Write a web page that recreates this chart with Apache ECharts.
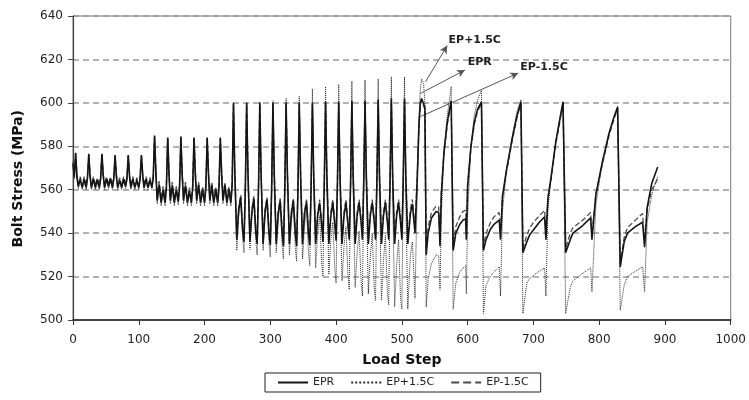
<!DOCTYPE html>
<html>
<head>
<meta charset="utf-8">
<script src="https://cdn.jsdelivr.net/npm/echarts@6/dist/echarts.min.js"></script>
<style>
html,body{margin:0;padding:0;background:#fff;}
#chart{width:749px;height:400px;}
</style>
</head>
<body>
<div id="chart"></div>
<script>
// ---------- data ----------
const yTicks = [500, 520, 540, 560, 580, 600, 620, 640];
const xTicks = [0, 100, 200, 300, 400, 500, 600, 700, 800, 900, 1000];
const seriesNames = ['EPR', 'EP+1.5C', 'EP-1.5C'];

// phase 1 (load steps 0-122)
const stepsP1 = [0,2,4,6,8,11,14,17,20,22, 24,26,28,31,34,37,40,42, 44,46,48,51,54,57,60,62, 64,66,68,71,74,77,80,82, 84,86,88,91,94,97,100,102, 104,106,108,111,114,117,120,122];
const eprP1 = [572,566,577,566,561.5,565,561,565,561,565.5, 576.5,566,561,565,561,564.5,561,565, 576.5,566.5,561,565,561.5,565,561,565, 576,566,561,564.5,561,565,561.5,565, 576,566,561,565,561,564.5,561,565, 576,566.5,561,565,561,564.5,561,565.5];
const epPlusP1 = [571,565,576.5,565,560.5,564.5,560,564,560,564.5, 576,565,560,564.5,560,564,560,564.5, 576,565.5,560,564.5,560.5,564.5,560,564.5, 575.5,565,560,564,560,564.5,560.5,564.5, 575.5,565,560,564.5,560,564,560,564.5, 575.5,565.5,560,564.5,560,564,560,565];
const epMinusP1 = [573,567,576.5,567,562.5,566,562,566,562,566, 576,567,562,566,562,565.5,562,566, 576,567,562,566,562.5,566,562,566, 575.5,567,562,565.5,562,566,562.5,566, 575.5,567,562,566,562,565.5,562,566, 575.5,567,562,566,562,565.5,562,566];

// phase 2 (load steps 124-242)
const stepsP2 = [124,126,128,131,134,137,140,142, 144,146,148,151,154,157,160,162, 164,166,168,171,174,177,180,182, 184,186,188,191,194,197,200,202, 204,206,208,211,214,217,220,222, 224,226,228,231,234,237,240,242];
const eprP2 = [585,568,555,562.5,554,560,554,561, 584,567,555,562,554,560,554.5,561, 584.5,567,555,562,554,559.5,554,561, 584,567,555,562,554,560,554,561, 584,567,555,562,554,560,554,561, 584,567,555,562,554,560,554,562];
const epPlusP2 = [584.5,567,553.5,561.5,552.5,559,552.5,560, 583.5,566,553.5,561,552.5,559,553,560, 584,566,553.5,561,552.5,558.5,552.5,560, 583.5,566,553.5,561,552.5,559,552.5,560, 583.5,566,553.5,561,552.5,559,552.5,560, 583.5,566,553.5,561,552.5,559,552.5,561];
const epMinusP2 = [584.5,569,556.5,564,555.5,561.5,555.5,562.5, 583.5,568.5,556.5,563.5,555.5,561.5,556,562.5, 584,568.5,556.5,563.5,555.5,561,555.5,562.5, 583.5,568.5,556.5,563.5,555.5,561.5,555.5,562.5, 583.5,568.5,556.5,563.5,555.5,561.5,555.5,562.5, 583.5,568.5,556.5,563.5,555.5,561.5,555.5,563.5];

// phase 3 (load steps 244-528)
const stepsP3 = [244,246,249,252,255,258,260,262, 264,266,269,272,275,278,280,282, 284,286,289,292,295,298,300,302, 304,306,309,312,315,318,320,322, 324,326,329,332,335,338,340,342, 344,346,349,352,355,358,360,362, 364,366,369,372,375,378,380,382, 384,386,389,392,395,398,400,402, 404,406,409,412,415,418,420,422, 424,426,429,432,435,438,440,442, 444,446,449,452,455,458,460,462, 464,466,469,472,475,478,480,482, 484,486,489,492,495,498,500,502, 504,506,509,513,516,520,523,526,528];
const eprP3 = [600,568,537,551,556.5,541,536,560, 600,568,536,550,556,540,535,560, 600,567,535,550,555.5,540,534.5,560, 600,567,535,549,555,540,534,560, 600,567,535,549,555,540,534,560, 600,567,535,549,554.5,540,534.5,561, 600,566,535,548,554,544,536,562, 600.5,566,535,548,554,544,536.5,562, 600.5,566,535,548,554,544,537,562, 601,566,535,548,554,545,537,563, 601,566,535,548,554,545,537,563, 601.5,566,535,548,554,545,537,563, 602,566,535,548,554,545,537,563, 602,566,535,549,553.5,540,562,590,600];
const epPlusP3 = [600,566,532,548,555,537,531,558, 600,566,532.5,548,555,536,530,558, 600.5,565,532,547,554.5,535,529,558, 601,565,531,546,554,534,528,558, 602,565,530,545,553,533,527,559, 603,564,528,543,552,531,525,559, 606.5,563,524,540,548,527,520,560, 607.5,562,521,537,545,524,517,560, 608.5,561,518,534,543,521,514,560, 610,560,515,531,541,518,511,561, 610.5,559,512,529,540,515,509,561, 611,558,509,527,539,512,507,561, 612,557,506,525,537,510,505,561, 612,556,505,530,536,510,555,592,606];
const epMinusP3 = [599.5,569,538.5,552,557.5,542.5,537.5,561, 599.5,569,537.5,551,557,541.5,536.5,561, 599.5,568,536.5,551,556.5,541.5,536,561, 599.5,568,536.5,550,556,541.5,535.5,561, 599.5,568,536.5,550,556,541.5,535.5,561, 599.5,568,536.5,550,555.5,541.5,536,562, 599.5,567,536.5,549.5,555.5,545.5,537.5,563, 600,567,536.5,549.5,555.5,545.5,538,563, 600,567,536.5,549.5,555.5,545.5,538.5,563, 600.5,567,536.5,549.5,555.5,546.5,538.5,564, 600.5,567,536.5,549.5,555.5,546.5,538.5,564, 601,567,536.5,549.5,555.5,546.5,538.5,564, 601,567,536.5,549.5,555.5,546.5,538.5,564, 601,567,537,551,555.5,542,563,589,599];

// phase 4 (load steps 530-889)
const stepsP4 = [530,533,535,537,540,545,552,556,558,560,564,569, 575,578,582,588,593,597,598,600,605,610,615, 621,624,628,635,640,648,650,653,659,668,675, 681,684,690,694,700,709,717,719,722,727,734,740, 745,749,756,760,775,787,789,795,805,815,822, 828,832,838,843,855,866,869,873,880,889];
const eprP4 = [602,601.5,598,530,540,547,550,549.5,534,558,577,591, 601,532,540,544,546,546.5,537,562,580,591,597, 600.5,532,537,542,544,546,537,557,569,584,594, 600.5,531,536,539,541.5,545,547.5,537,556,566,582,592, 600.5,531,537,540,543.5,547,537,558,573,586,593, 598,524.5,536,540,543,545,533.5,552,563,570.5];
const epPlusP4 = [611,609,600,506,519,526,530,529.5,514,548,578,594, 607.5,505,517,522,524,525,512,548,580,594,601, 606,503,516,520.5,522,524.5,511,550,569,585,596, 601.5,503,517,519,520.5,522.5,524,511,550,566,582,593, 600.5,503,515,518,521.5,524,513,553,573,586,593, 598.5,504.5,516,520,522.5,524.5,513,545,558,566];
const epMinusP4 = [601,600.5,597,532,543,549.5,552.5,552,537,559,577,590, 600.5,534,543,547.5,550,550.5,539,562,579,590,596, 600,534,540,545,547.5,549.5,539,557,568,583,593, 600,533,539,542,545,548,550.5,539,556,565,581,591, 600,533,540,542.5,546,549.5,539,558,572,585,592, 597.5,526,538,542.5,546,549,535.5,551,560,565];

// annotation texts and arrow end points (data units)
const annotTexts = ['EP+1.5C', 'EPR', 'EP-1.5C'];
const annotTextAt = [[571, 629], [600, 618.8], [680, 616.4]];
const arrowFrom = [[536, 609.7], [528, 604.3], [529, 593.8]];
const arrowTo = [[569, 626.4], [596, 615.1], [677, 613.7]];

// ---------- build ----------
const allSteps = stepsP1.concat(stepsP2, stepsP3, stepsP4);
function zip(vals) { return allSteps.map((s, i) => [s, vals[i]]); }
const eprData = zip(eprP1.concat(eprP2, eprP3, eprP4));
const epPlusData = zip(epPlusP1.concat(epPlusP2, epPlusP3, epPlusP4));
const epMinusData = zip(epMinusP1.concat(epMinusP2, epMinusP3, epMinusP4));

const FONT = 'DejaVu Sans';
const chart = echarts.init(document.getElementById('chart'), null, {renderer: 'canvas'});

const option = {
  animation: false,
  backgroundColor: '#ffffff',
  grid: {left: 73, right: 18, top: 16, bottom: 80, show: true, borderColor: '#777', borderWidth: 1, backgroundColor: 'transparent'},
  xAxis: {
    type: 'value', min: xTicks[0], max: xTicks[xTicks.length - 1], interval: 100,
    name: 'Load Step', nameLocation: 'middle', nameGap: 33,
    nameTextStyle: {fontFamily: FONT, fontWeight: 'bold', fontSize: 14, color: '#111'},
    axisLine: {show: true, onZero: false, lineStyle: {color: '#222', width: 1.5}},
    axisTick: {show: true, length: 5, lineStyle: {color: '#333'}},
    axisLabel: {fontFamily: FONT, fontSize: 12, color: '#222', margin: 14, formatter: v => String(v)},
    splitLine: {show: false}
  },
  yAxis: {
    type: 'value', min: yTicks[0], max: yTicks[yTicks.length - 1], interval: 20,
    axisLine: {show: true, lineStyle: {color: '#444', width: 1.2}},
    axisTick: {show: true, length: 5, lineStyle: {color: '#444'}},
    axisLabel: {fontFamily: FONT, fontSize: 12, color: '#222', margin: 10, formatter: v => String(v)},
    splitLine: {show: true, lineStyle: {color: '#999', width: 1.5, type: [6, 4]}}
  },
  graphic: [{
    type: 'text', left: 11, top: 110, rotation: Math.PI / 2,
    style: {text: 'Bolt Stress (MPa)', font: 'bold 14px "DejaVu Sans"', fill: '#111'}
  }],
  legend: {
    left: 265, top: 373,
    data: seriesNames,
    borderColor: '#222', borderWidth: 1, padding: [4, 12, 4, 12],
    itemGap: 16, itemWidth: 30, itemHeight: 10,
    itemStyle: {opacity: 0},
    textStyle: {fontFamily: FONT, fontSize: 11, color: '#222'}
  },
  series: [
    {
      name: seriesNames[0], type: 'line', data: eprData, symbol: 'none', z: 5,
      lineStyle: {color: '#151515', width: 1.6, type: 'solid'}, itemStyle: {color: '#151515'},
      markLine: {
        silent: true, symbol: ['none', 'arrow'], symbolSize: [6, 8],
        lineStyle: {color: '#555', width: 1, type: 'solid'}, label: {show: false},
        data: arrowFrom.map((f, i) => [{coord: f}, {coord: arrowTo[i]}])
      },
      markPoint: {
        silent: true, symbol: 'circle', symbolSize: 0,
        label: {show: true, position: 'right', distance: 0, formatter: '{b}',
                fontFamily: FONT, fontWeight: 'bold', fontSize: 11, color: '#222'},
        data: annotTexts.map((t, i) => ({name: t, coord: annotTextAt[i]}))
      }
    },
    {
      name: seriesNames[1], type: 'line', data: epPlusData, symbol: 'none', z: 3,
      lineStyle: {color: '#2a2a2a', width: 1, type: 'dotted'}, itemStyle: {color: '#2a2a2a'}
    },
    {
      name: seriesNames[2], type: 'line', data: epMinusData, symbol: 'none', z: 4,
      lineStyle: {color: '#4a4a4a', width: 1.3, type: 'dashed'}, itemStyle: {color: '#4a4a4a'}
    }
  ]
};
chart.setOption(option);
</script>
</body>
</html>
